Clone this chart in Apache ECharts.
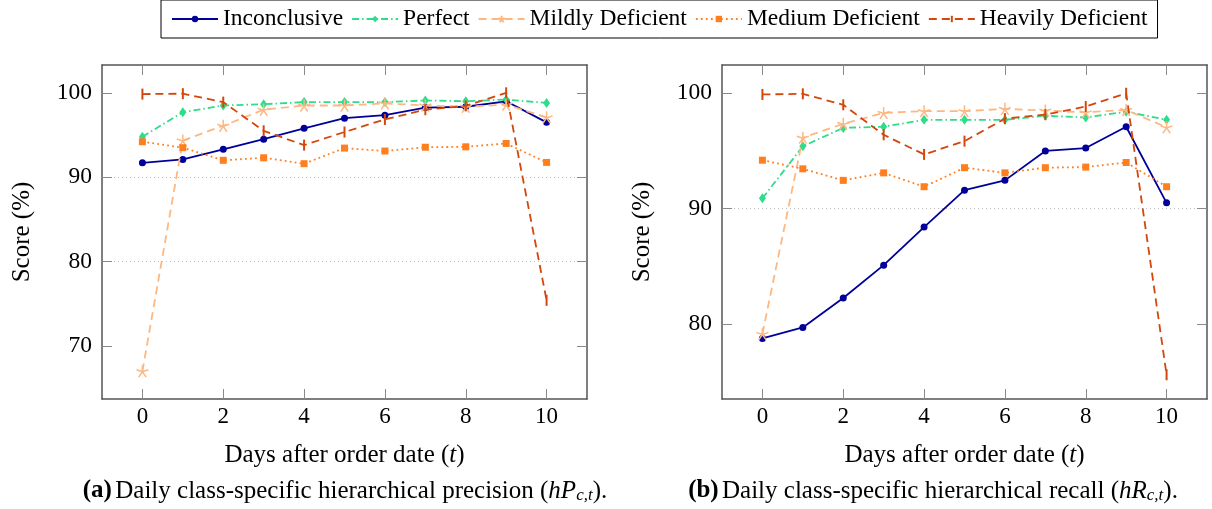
<!DOCTYPE html>
<html>
<head>
<meta charset="utf-8">
<script src="https://cdn.jsdelivr.net/npm/echarts@6/dist/echarts.min.js"></script>
<style>
html,body{margin:0;padding:0;background:#fff;}
#chart{width:1212px;height:509px;}
</style>
</head>
<body>
<div id="chart"></div>
<script>
var days = [0, 1, 2, 3, 4, 5, 6, 7, 8, 9, 10];
var xTickValues = [0, 2, 4, 6, 8, 10];
var precTickValues = [70, 80, 90, 100];
var recTickValues = [80, 90, 100];
var seriesNames = ['Inconclusive', 'Perfect', 'Mildly Deficient', 'Medium Deficient', 'Heavily Deficient'];

// (a) precision hP_{c,t}
var precInconclusive = [91.7, 92.1, 93.3, 94.5, 95.8, 97.0, 97.35, 98.25, 98.35, 99.0, 96.5];
var precPerfect      = [94.8, 97.7, 98.5, 98.65, 98.9, 98.9, 98.9, 99.1, 99.0, 99.2, 98.8];
var precMildly       = [67.0, 94.35, 96.1, 98.0, 98.5, 98.5, 98.75, 98.5, 98.35, 98.6, 97.1];
var precMedium       = [94.2, 93.5, 92.0, 92.3, 91.6, 93.45, 93.1, 93.55, 93.6, 94.0, 91.75];
var precHeavily      = [99.85, 99.9, 98.9, 95.5, 93.8, 95.35, 96.85, 98.0, 98.45, 100.0, 75.4];

// (b) recall hR_{c,t}
var recInconclusive = [78.75, 79.7, 82.25, 85.1, 88.4, 91.6, 92.45, 95.0, 95.25, 97.1, 90.5];
var recPerfect      = [90.9, 95.4, 97.0, 97.1, 97.7, 97.7, 97.7, 98.05, 97.9, 98.4, 97.7];
var recMildly       = [79.15, 96.15, 97.35, 98.3, 98.45, 98.45, 98.65, 98.5, 98.35, 98.55, 97.05];
var recMedium       = [94.2, 93.45, 92.45, 93.1, 91.9, 93.55, 93.1, 93.55, 93.6, 94.0, 91.9];
var recHeavily      = [99.9, 99.95, 99.0, 96.4, 94.7, 95.85, 97.8, 98.15, 98.85, 100.0, 75.6];

var FONT = '"Liberation Serif", "DejaVu Serif", serif';
var FRAME = '#555555';
var TICK = '#8a8a8a';

var styles = [
  {color: '#000099', dash: 'solid', symbol: 'circle', size: 7, item: {}},
  {color: '#2fdc8a', dash: [7, 3, 1.5, 3], symbol: 'diamond', size: [7, 10], item: {}},
  {color: '#fdb882', dash: [8, 5], symbol: 'path://M0,0L0,-1M0,0L-0.951,-0.309M0,0L-0.588,0.809M0,0L0.588,0.809M0,0L0.951,-0.309', size: 12, item: {borderWidth: 1.5}},
  {color: '#ff7f1f', dash: [1.8, 3.2], symbol: 'rect', size: 7, item: {}},
  {color: '#d4470c', dash: [8, 5], symbol: 'path://M0,-1L0,1M-1,0L-1,0M1,0L1,0', size: 11, item: {borderWidth: 2}}
];

function pairs(vals) { return days.map(function (d, i) { return [d, vals[i]]; }); }

function makeSeries(datasets, gi) {
  return datasets.map(function (vals, k) {
    var s = styles[k];
    return {
      name: seriesNames[k],
      type: 'line',
      xAxisIndex: gi * 2,
      yAxisIndex: gi * 2,
      data: pairs(vals),
      symbol: s.symbol,
      symbolSize: s.size,
      showAllSymbol: true,
      lineStyle: {color: s.color, width: 1.8, type: s.dash},
      itemStyle: Object.assign({color: s.color, borderColor: s.color, borderWidth: 0}, s.item),
      z: 3 + k
    };
  });
}

function xAxes(gi) {
  var base = {
    type: 'value', gridIndex: gi, min: -1, max: 11,
    axisLine: {show: true, onZero: false, lineStyle: {color: FRAME, width: 1.5}},
    splitLine: {show: false}
  };
  return [
    Object.assign({}, base, {
      position: 'bottom',
      axisTick: {show: true, inside: true, length: 10, customValues: xTickValues, lineStyle: {color: TICK, width: 1}},
      axisLabel: {show: true, customValues: xTickValues, margin: 6, fontFamily: FONT, fontSize: 23, color: '#000'},
      name: '{n|Days after order date (}{i|t}{n|)}',
      nameLocation: 'middle', nameGap: 44,
      nameTextStyle: {rich: {
        n: {fontFamily: FONT, fontSize: 25, color: '#000'},
        i: {fontFamily: FONT, fontSize: 25, fontStyle: 'italic', color: '#000'}
      }}
    }),
    Object.assign({}, base, {
      position: 'top',
      axisTick: {show: true, inside: true, length: 10, customValues: xTickValues, lineStyle: {color: TICK, width: 1}},
      axisLabel: {show: false}
    })
  ];
}

function yAxes(gi, min, max, ticks, split) {
  var base = {
    type: 'value', gridIndex: gi, min: min, max: max, splitNumber: split,
    axisLine: {show: true, onZero: false, lineStyle: {color: FRAME, width: 1.5}}
  };
  return [
    Object.assign({}, base, {
      position: 'left',
      axisTick: {show: true, inside: true, length: 10, customValues: ticks, lineStyle: {color: TICK, width: 1}},
      axisLabel: {show: true, customValues: ticks, margin: 10, fontFamily: FONT, fontSize: 23.5, color: '#000'},
      splitLine: {show: true, showMinLine: false, showMaxLine: false, lineStyle: {color: '#bdbdbd', width: 1, type: [1, 3]}},
      name: 'Score (%)', nameLocation: 'middle', nameGap: 67, nameRotate: 90,
      nameTextStyle: {fontFamily: FONT, fontSize: 25, color: '#000'}
    }),
    Object.assign({}, base, {
      position: 'right',
      axisTick: {show: true, inside: true, length: 10, customValues: ticks, lineStyle: {color: TICK, width: 1}},
      axisLabel: {show: false},
      splitLine: {show: false}
    })
  ];
}

var capRich = {
  b: {fontFamily: FONT, fontSize: 25, fontWeight: 'bold', fill: '#000'},
  n: {fontFamily: FONT, fontSize: 25, fill: '#000'},
  i: {fontFamily: FONT, fontSize: 25, fontStyle: 'italic', fill: '#000'},
  s: {fontFamily: FONT, fontSize: 17, fontStyle: 'italic', fill: '#000', verticalAlign: 'bottom', padding: [10, 0, 0, 0]}
};

var chart = echarts.init(document.getElementById('chart'), null, {renderer: 'canvas'});
chart.setOption({
  animation: false,
  backgroundColor: '#fff',
  legend: {
    data: seriesNames,
    left: 161, top: 0,
    itemWidth: 46, itemHeight: 8, itemGap: 8,
    padding: [7, 10, 7, 10],
    borderColor: '#000', borderWidth: 1,
    textStyle: {fontFamily: FONT, fontSize: 23.5, color: '#000', lineHeight: 24}
  },
  grid: [
    {left: 102, top: 65, width: 485, height: 334, containLabel: false},
    {left: 722, top: 65, width: 485, height: 334, containLabel: false}
  ],
  xAxis: xAxes(0).concat(xAxes(1)),
  yAxis: yAxes(0, 63.7, 103.3, precTickValues, 4).concat(yAxes(1, 73.5, 102.45, recTickValues, 3)),
  series: makeSeries([precInconclusive, precPerfect, precMildly, precMedium, precHeavily], 0)
    .concat(makeSeries([recInconclusive, recPerfect, recMildly, recMedium, recHeavily], 1)),
  graphic: [
    {type: 'text', x: 345, y: 491, style: {
      text: '{b|(a)} {n|Daily class-specific hierarchical precision (}{i|hP}{s|c,t}{n|).}',
      align: 'center', verticalAlign: 'middle', rich: capRich
    }},
    {type: 'text', x: 933, y: 491, style: {
      text: '{b|(b)} {n|Daily class-specific hierarchical recall (}{i|hR}{s|c,t}{n|).}',
      align: 'center', verticalAlign: 'middle', rich: capRich
    }}
  ]
});
</script>
</body>
</html>
